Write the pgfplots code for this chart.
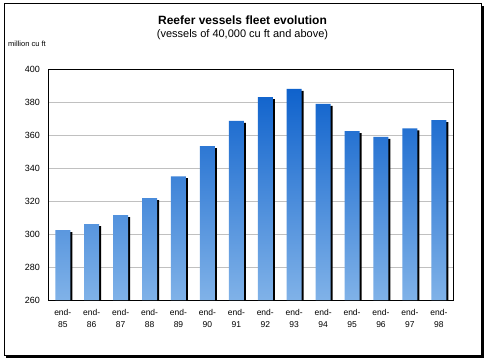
\documentclass[border=0pt]{standalone}
\usepackage{pgfplots}
\pgfplotsset{compat=1.18}
\usepackage{pgfplotstable}
\usepackage{fontspec}
\setmainfont{Liberation Sans}
\definecolor{bartop}{HTML}{0F62CC}
\definecolor{barbot}{HTML}{80B2E8}
\definecolor{gridgray}{HTML}{C0C0C0}
\pgfplotstableread{
x v
0 302.4
1 306.0
2 311.5
3 321.8
4 335.0
5 353.3
6 368.5
7 383.0
8 387.9
9 378.8
10 362.4
11 358.8
12 364.0
13 369.0
}\fleet
\begin{document}
\begin{tikzpicture}
\path[use as bounding box] (0pt,0pt) rectangle (487pt,362pt);
\fill[black] (6pt,4pt) rectangle (483.5pt,356pt);
\filldraw[fill=white,draw=black,line width=1pt] (4pt,7pt) rectangle (481pt,358.5pt);
\node[font=\bfseries\fontsize{12}{14}\selectfont, anchor=base] at (242.5pt,337pt) {Reefer vessels fleet evolution};
\node[font=\fontsize{11}{13}\selectfont, anchor=base] at (242.5pt,324pt) {(vessels of 40,000 cu ft and above)};
\node[font=\fontsize{7.5}{9}\selectfont, anchor=base west, inner sep=0pt] at (8pt,315pt) {million cu ft};
\begin{axis}[
  at={(48.3pt,62pt)}, anchor=south west, scale only axis,
  width=405pt, height=231pt,
  ybar, bar width=15pt,
  xmin=-0.5, xmax=13.5, ymin=0, ymax=140,
  ytick={0,20,40,60,80,100,120,140},
  yticklabels={260,280,300,320,340,360,380,400},
  xtick={0,1,2,3,4,5,6,7,8,9,10,11,12,13},
  xticklabels={{end-\\85},{end-\\86},{end-\\87},{end-\\88},{end-\\89},{end-\\90},{end-\\91},{end-\\92},{end-\\93},{end-\\94},{end-\\95},{end-\\96},{end-\\97},{end-\\98}},
  major tick length=0pt,
  ymajorgrids, grid style={gridgray, line width=0.8pt},
  axis line style={black, line width=0.8pt},
  xticklabel style={font=\fontsize{8.5}{12}\selectfont, align=center, yshift=-6pt},
  yticklabel style={font=\fontsize{9}{11}\selectfont, xshift=-5pt},
  /pgf/number format/assume math mode=true,
]
\addplot[bar shift=2pt, fill=black, draw=none] table[x=x, y expr=\thisrow{v}-261.2] {\fleet};
\addplot[bar shift=0pt, draw=none, top color=bartop, bottom color=barbot] table[x=x, y expr=\thisrow{v}-260] {\fleet};
\end{axis}
\end{tikzpicture}
\end{document}
